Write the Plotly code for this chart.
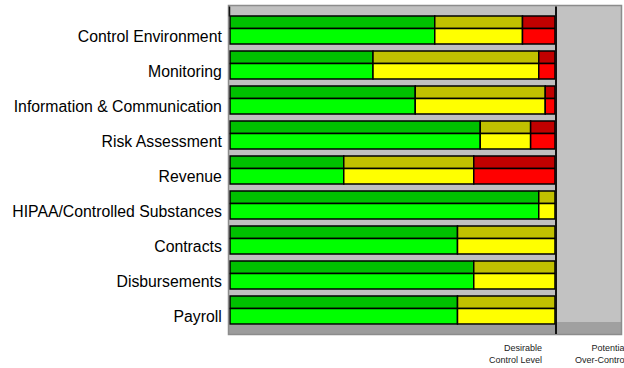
import plotly.graph_objects as go

# Control areas and their rating shares (percent of each bar)
categories = [
    "Control Environment",
    "Monitoring",
    "Information & Communication",
    "Risk Assessment",
    "Revenue",
    "HIPAA/Controlled Substances",
    "Contracts",
    "Disbursements",
    "Payroll",
]
green = [63, 44, 57, 77, 35, 95, 70, 75, 70]
yellow = [27, 51, 40, 15.5, 40, 5, 30, 25, 30]
red = [10, 5, 3, 7.5, 25, 0, 0, 0, 0]

axis_labels = ["Desirable<br>Control Level", "Potential<br>Over-Control"]

# ---- layout geometry (pixels) ----
FIG_W, FIG_H = 624, 368
PLOT_L, PLOT_R, PLOT_T, PLOT_B = 229, 624, 4, 336
X0_PX, X100_PX = 230, 555          # where 0 % and 100 % fall
PITCH = 35                         # px per category row
ROW0_PX = 36.25                    # centre of first front face

SCALE = (X100_PX - X0_PX) / 100.0


def px_x(p):
    return (p - PLOT_L) / (PLOT_R - PLOT_L)


def px_y(p):
    return 1 - (p - PLOT_T) / (PLOT_B - PLOT_T)


x_range = [(PLOT_L - X0_PX) / SCALE, (PLOT_R - X0_PX) / SCALE]
y_range = [(PLOT_B - ROW0_PX) / PITCH, (PLOT_T - ROW0_PX) / PITCH]

# top face (darker strip) and front face (bright bar), in row units
TOP_OFF, TOP_W = -(ROW0_PX - 16) / PITCH, (28.5 - 16) / PITCH
FRONT_OFF, FRONT_W = -(ROW0_PX - 28.5) / PITCH, (44 - 28.5) / PITCH

series = [
    ("green", green, "#00c000", "#00ff00"),
    ("yellow", yellow, "#c0c000", "#ffff00"),
    ("red", red, "#c00000", "#ff0000"),
]

fig = go.Figure()
positions = list(range(len(categories)))
base = [0.0] * len(categories)
for name, vals, dark, bright in series:
    ys, xs, bs = [], [], []
    for i, v in enumerate(vals):
        if v > 0:
            ys.append(positions[i])
            xs.append(v)
            bs.append(base[i])
    for face, col, off, w in (("top", dark, TOP_OFF, TOP_W),
                              ("front", bright, FRONT_OFF, FRONT_W)):
        fig.add_trace(go.Bar(
            orientation="h",
            y=ys, x=xs, base=bs,
            offset=off, width=w,
            marker=dict(color=col, line=dict(color="black", width=1.5)),
            name=f"{name} {face}",
            showlegend=False,
            hoverinfo="skip",
        ))
    base = [b + v for b, v in zip(base, vals)]

shapes = []


def rect(x0, y0, x1, y1, fill=None, line=None, lw=0, layer="below"):
    shapes.append(dict(
        type="rect", xref="paper", yref="paper",
        x0=px_x(x0), x1=px_x(x1), y0=px_y(y0), y1=px_y(y1),
        fillcolor=fill if fill else "rgba(0,0,0,0)",
        line=dict(color=line if line else "rgba(0,0,0,0)", width=lw),
        layer=layer,
    ))


def vline(x, y0, y1, color, lw, layer="above"):
    shapes.append(dict(
        type="line", xref="paper", yref="paper",
        x0=px_x(x), x1=px_x(x), y0=px_y(y0), y1=px_y(y1),
        line=dict(color=color, width=lw), layer=layer,
    ))


# walls and floor
rect(229, 6, 556, 334, fill="#c0c0c0")
rect(556, 6, 621, 334, fill="#c2c2c2")
rect(229, 325, 556, 334, fill="#9c9c9c")
rect(556, 322, 621, 334, fill="#a0a0a0")
rect(228.5, 5.5, 621.5, 334.5, line="#8c8c8c", lw=1.5, layer="above")
vline(556, 6.5, 334, "#111111", 2)
vline(229.5, 6.5, 16.5, "#111111", 1.5)

annotations = [
    dict(text=axis_labels[0], xref="paper", yref="paper",
         x=px_x(544), y=px_y(341), xanchor="right", yanchor="top",
         align="right", showarrow=False,
         font=dict(size=9, color="#222222")),
    dict(text=axis_labels[1], xref="paper", yref="paper",
         x=px_x(629), y=px_y(341), xanchor="right", yanchor="top",
         align="right", showarrow=False,
         font=dict(size=9, color="#222222")),
]

fig.update_layout(
    width=FIG_W, height=FIG_H,
    margin=dict(l=PLOT_L, r=FIG_W - PLOT_R, t=PLOT_T, b=FIG_H - PLOT_B, pad=0),
    paper_bgcolor="white", plot_bgcolor="white",
    barmode="overlay",
    font=dict(family="Liberation Sans, Arial, sans-serif", color="black"),
    shapes=shapes,
    annotations=annotations,
    xaxis=dict(range=x_range, showgrid=False, zeroline=False,
               showticklabels=False, showline=False, fixedrange=True),
    yaxis=dict(range=y_range, tickmode="array", tickvals=positions,
               ticktext=categories, showgrid=False, zeroline=False,
               showline=False, ticks="outside", ticklen=3,
               tickcolor="rgba(0,0,0,0)",
               tickfont=dict(size=15.8, color="black"), fixedrange=True),
)

fig.write_html("out.html")
